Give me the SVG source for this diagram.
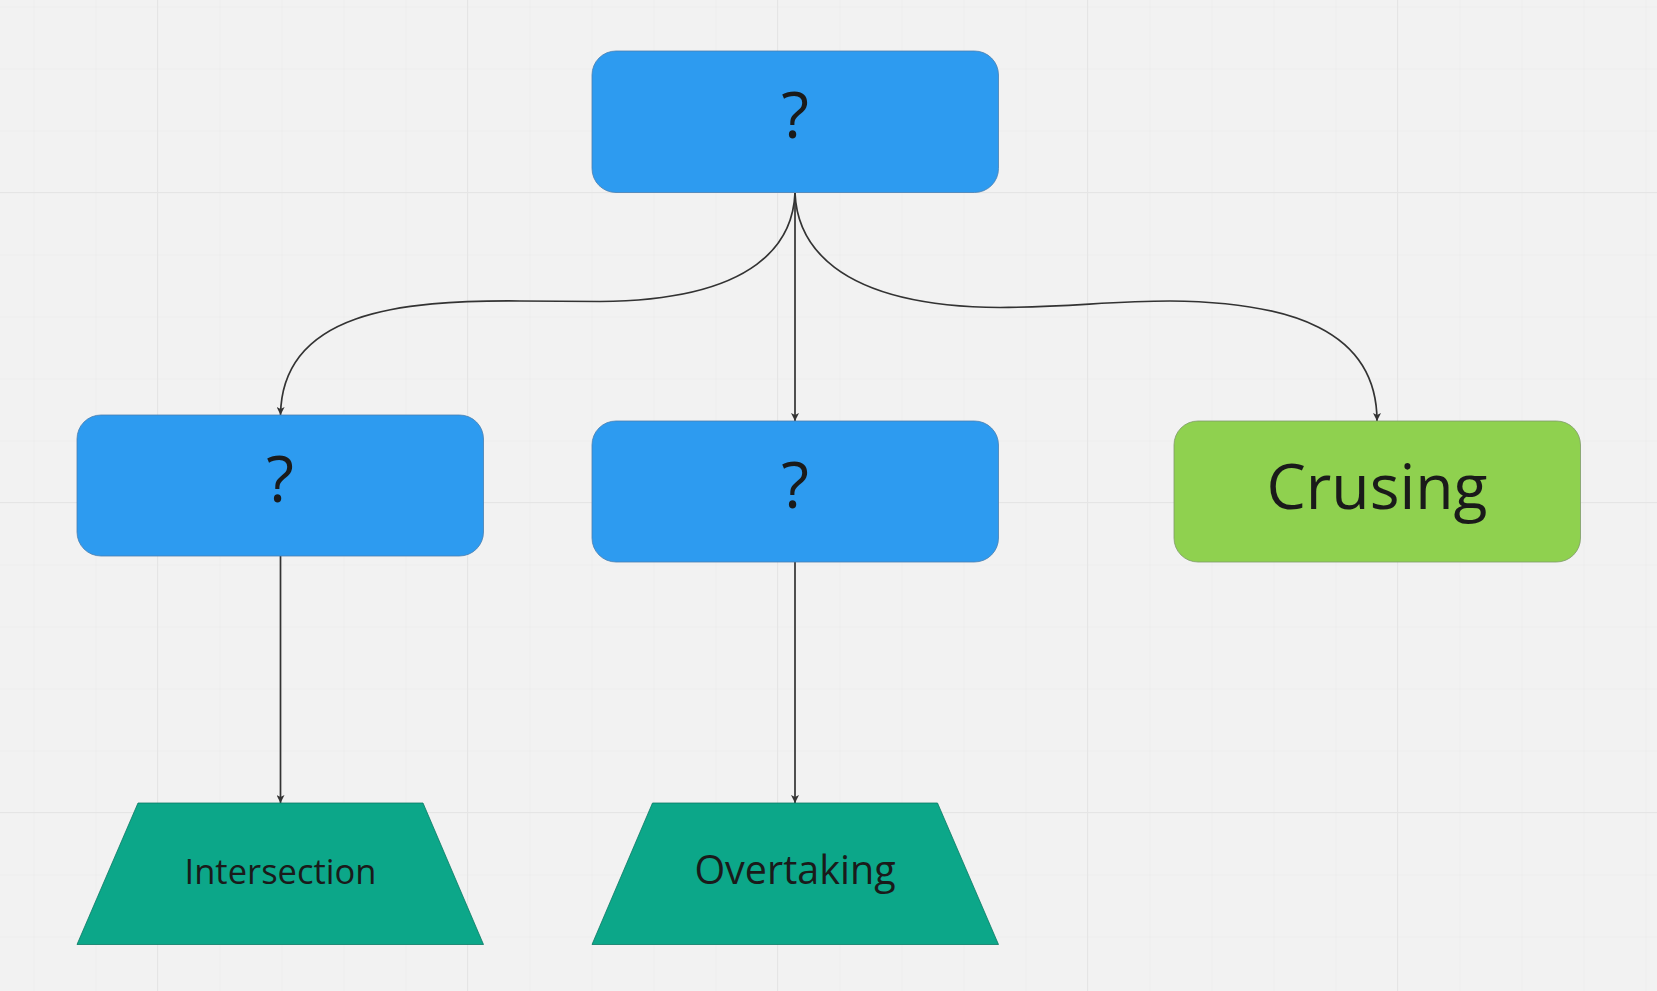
<svg xmlns="http://www.w3.org/2000/svg" width="1657" height="991" viewBox="0 0 1657 991">
<defs>
<style>
.minor{stroke:#e9e9e9;stroke-width:1}
.major{stroke:#e5e5e5;stroke-width:1}
.blue{fill:#2d9bf0;stroke:#4a7fb0;stroke-width:0.8}
.green{fill:#8fd14f;stroke:#7f9a6a;stroke-width:0.8}
.teal{fill:#0ca789;stroke:#0a7a64;stroke-width:0.8}
.lbl{font-family:"Open Sans","Liberation Sans",sans-serif;fill:#1a1a1a;text-anchor:middle}
.conn{fill:none;stroke:#333333;stroke-width:1.7}
</style>
<marker id="arr" viewBox="0 0 10 10" refX="10" refY="5" markerWidth="8" markerHeight="8" markerUnits="userSpaceOnUse" orient="auto">
<path d="M0,0 L10,5 L0,10 L2.5,5 Z" fill="#333333"/>
</marker>
<pattern id="gridMinor" x="33.5" y="6.5" width="62" height="62" patternUnits="userSpaceOnUse">
<path d="M0,0 V62 M0,0 H62" class="minor" fill="none"/>
</pattern>
</defs>
<rect x="0" y="0" width="1657" height="991" fill="#f2f2f2"/>
<g id="grid">
<rect x="0" y="0" width="1657" height="991" fill="url(#gridMinor)"/>
<path class="major" fill="none" d="M157.5,0 V991 M467.5,0 V991 M777.5,0 V991 M1087.5,0 V991 M1397.5,0 V991 M0,192.5 H1657 M0,502.5 H1657 M0,812.5 H1657"/>
</g>
<g id="connectors">
<path class="conn" d="M795,193 V421" marker-end="url(#arr)"/>
<path class="conn" d="M795,193 C793,240 760,300 600,301.5 L520,301 C400,300 282,312 280.5,415" marker-end="url(#arr)"/>
<path class="conn" d="M795,193 C797,240 830,306 1000,307.5 C1070,307 1110,301 1170,301 C1290,302 1377,330 1377,421" marker-end="url(#arr)"/>
<path class="conn" d="M280.5,556 V803" marker-end="url(#arr)"/>
<path class="conn" d="M795,562 V803" marker-end="url(#arr)"/>
</g>
<g id="node-top">
<rect class="blue" x="592" y="51" width="406.5" height="141.5" rx="24"/>
<text class="lbl" x="795" y="138" font-size="64">?</text>
</g>
<g id="node-left">
<rect class="blue" x="77" y="415" width="406.5" height="141" rx="24"/>
<text class="lbl" x="280" y="501.5" font-size="64">?</text>
</g>
<g id="node-mid">
<rect class="blue" x="592" y="421" width="406.5" height="141" rx="24"/>
<text class="lbl" x="795" y="508" font-size="64">?</text>
</g>
<g id="node-crusing">
<rect class="green" x="1174" y="421" width="406.5" height="141" rx="24"/>
<text class="lbl" x="1377" y="508.5" font-size="62.5">Crusing</text>
</g>
<g id="node-intersection">
<polygon class="teal" points="138,803 423,803 483.5,944.5 77,944.5"/>
<text class="lbl" x="280.5" y="883.5" font-size="34.5">Intersection</text>
</g>
<g id="node-overtaking">
<polygon class="teal" points="652.5,803 937.5,803 998.5,944.5 592,944.5"/>
<text class="lbl" x="795" y="884" font-size="39.5">Overtaking</text>
</g>
</svg>
